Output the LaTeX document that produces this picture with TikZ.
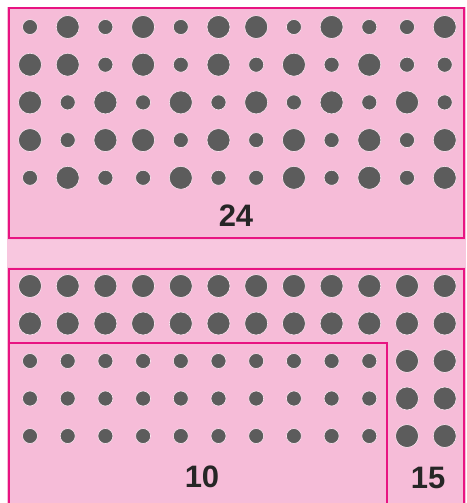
\documentclass[tikz,border=0pt]{standalone}
\usepackage{fontspec}
\setmainfont{Liberation Sans}
\definecolor{pinkbg}{RGB}{246,188,216}
\definecolor{pinkband}{RGB}{248,199,223}
\definecolor{frame}{RGB}{232,20,130}
\definecolor{dotgray}{RGB}{92,92,92}

\begin{document}
\begin{tikzpicture}[
  x=1pt, y=-1pt,
  %% ─── styles ──────────────────────────────────────────────
  dotL/.style={circle, fill=dotgray, draw=white!60!pinkbg, line width=0.6pt,
    minimum size=23, inner sep=0pt},
  dotS/.style={circle, fill=dotgray, draw=white!60!pinkbg, line width=0.6pt,
    minimum size=15, inner sep=0pt},
  frameline/.style={draw=frame, line width=1.8pt},
  count/.style={font=\fontsize{31}{31}\selectfont\bfseries, text=black!85, inner sep=0pt}
]

  %% ─── 0. page and background ─────────────────────────────
  \clip (0,0) rectangle (466,503);
  \fill[white] (0,0) rectangle (466,503);
  \fill[pinkbg] (7,7) rectangle (466,503);
  \fill[pinkband] (7,240) rectangle (466,267);

  %% ─── 1. upper field: 12 x 5 mixed dots ──────────────────
  \foreach \row [count=\r from 0] in {
      {S,L,S,L,S,L,L,S,L,S,S,L},
      {L,L,S,L,S,L,S,L,S,L,S,S},
      {L,S,L,S,L,S,L,S,L,S,L,S},
      {L,S,L,L,S,L,S,L,S,L,S,L},
      {S,L,S,S,L,S,S,L,S,L,S,L}} {
    \foreach \sz [count=\c from 0] in \row {
      \node[dot\sz] (t-\r-\c) at ({30+37.7*\c},{27+37.7*\r}) {};
    }
  }
  \node[count] (n24) at (236,216) {24};

  %% ─── 2. lower field: two big rows, then small + big ─────
  \foreach \r in {0,1} {
    \foreach \c in {0,...,11} {
      \node[dotL] (b-\r-\c) at ({30+37.7*\c},{286+37.5*\r}) {};
    }
  }
  \foreach \r in {2,3,4} {
    \foreach \c in {0,...,9} {
      \node[dotS] (b-\r-\c) at ({30+37.7*\c},{286+37.5*\r}) {};
    }
    \foreach \c in {10,11} {
      \node[dotL] (b-\r-\c) at ({30+37.7*\c},{286+37.5*\r}) {};
    }
  }
  \node[count] (n10) at (202,477) {10};
  \node[count] (n15) at (428,478) {15};

  %% ─── 3. frames ──────────────────────────────────────────
  \draw[frameline] (9,8) rectangle (464,238);
  \draw[frameline] (9,515) |- (464,269) -- (464,515);
  \draw[frameline] (9,343) -| (387,515);

\end{tikzpicture}
\end{document}
